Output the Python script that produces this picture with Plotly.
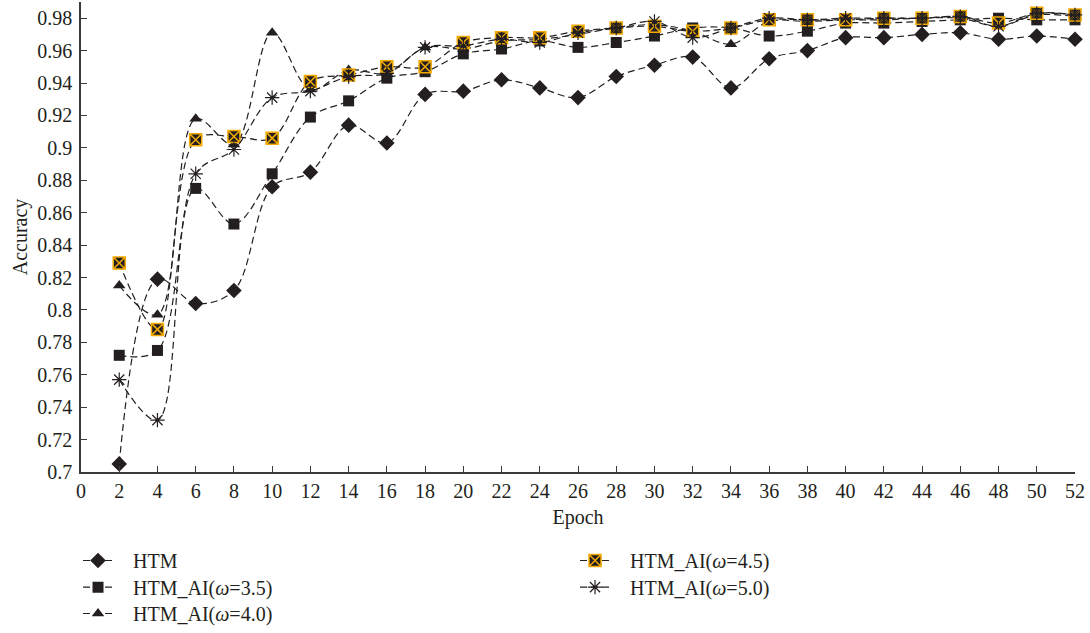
import plotly.graph_objects as go

epochs = list(range(2, 53, 2))

htm = [0.705, 0.819, 0.804, 0.812, 0.876, 0.885, 0.914, 0.903, 0.933, 0.935,
       0.942, 0.937, 0.931, 0.944, 0.951, 0.956, 0.937, 0.955, 0.960, 0.968,
       0.968, 0.970, 0.971, 0.967, 0.969, 0.967]
ai_35 = [0.772, 0.775, 0.875, 0.853, 0.884, 0.919, 0.929, 0.943, 0.947, 0.958,
         0.961, 0.966, 0.962, 0.965, 0.969, 0.974, 0.974, 0.969, 0.972, 0.977,
         0.977, 0.978, 0.979, 0.980, 0.979, 0.979]
ai_40 = [0.815, 0.797, 0.918, 0.902, 0.971, 0.936, 0.948, 0.946, 0.962, 0.961,
         0.966, 0.967, 0.970, 0.974, 0.976, 0.972, 0.964, 0.978, 0.978, 0.979,
         0.979, 0.980, 0.980, 0.975, 0.982, 0.981]
ai_45 = [0.829, 0.788, 0.905, 0.907, 0.906, 0.941, 0.945, 0.950, 0.950, 0.965,
         0.968, 0.968, 0.972, 0.974, 0.975, 0.972, 0.974, 0.979, 0.979, 0.979,
         0.980, 0.980, 0.981, 0.977, 0.983, 0.982]
ai_50 = [0.757, 0.732, 0.884, 0.899, 0.931, 0.935, 0.944, 0.946, 0.962, 0.963,
         0.967, 0.965, 0.971, 0.974, 0.978, 0.968, 0.974, 0.980, 0.979, 0.980,
         0.980, 0.980, 0.981, 0.975, 0.983, 0.982]

names = ["HTM", "HTM_AI(<i>ω</i>=3.5)", "HTM_AI(<i>ω</i>=4.0)",
         "HTM_AI(<i>ω</i>=4.5)", "HTM_AI(<i>ω</i>=5.0)"]

x_ticks = list(range(0, 53, 2))

INK = "#231f20"
ORANGE = "#f2a900"
FONT = "Liberation Serif"
PAD = "\u00a0\u00a0\u00a0"

styles = [
    dict(symbol="diamond", size=12, color=INK, line=dict(width=0, color=INK)),
    dict(symbol="square", size=11, color=INK, line=dict(width=0, color=INK)),
    dict(symbol="triangle-up", size=11, color=INK, line=dict(width=0, color=INK)),
    dict(symbol="square-x", size=12, color=INK, line=dict(width=1.5, color=ORANGE)),
    dict(symbol="asterisk-open", size=12, color=INK, line=dict(width=1.2, color=INK)),
]
series = [htm, ai_35, ai_40, ai_45, ai_50]
legend_ids = ["legend2", "legend3", "legend4", "legend5", "legend6"]
# legend placement (paper coords): column x, row y
legend_pos = [(-0.003, -0.1468), (-0.003, -0.2035), (-0.003, -0.2596),
              (0.497, -0.1468), (0.497, -0.2035)]

fig = go.Figure()
for name, ys, st, lg in zip(names, series, styles, legend_ids):
    fig.add_trace(go.Scatter(
        x=epochs, y=ys, name=PAD + name, mode="lines+markers",
        line=dict(color=INK, width=1.2, dash="7px,4px", shape="spline", smoothing=1),
        marker=st, legend=lg, showlegend=True, cliponaxis=False,
    ))

axis_common = dict(
    showline=True, linecolor="#3a3a3a", linewidth=1.5,
    ticks="inside", ticklen=6, tickwidth=1.2, tickcolor="#3a3a3a",
    showgrid=False, zeroline=False,
    tickfont=dict(family=FONT, size=20, color=INK),
)

legend_common = dict(
    xanchor="left", yanchor="top", orientation="v",
    bgcolor="rgba(0,0,0,0)", tracegroupgap=0, itemwidth=30,
    font=dict(family=FONT, size=20, color=INK),
)

layout_legends = {}
for lg, (lx, ly) in zip(legend_ids, legend_pos):
    layout_legends[lg] = dict(x=lx, y=ly, **legend_common)

fig.update_layout(
    width=1090, height=633,
    showlegend=True,
    margin=dict(l=81, r=15, t=2, b=161, autoexpand=False),
    paper_bgcolor="white", plot_bgcolor="white",
    font=dict(family=FONT, size=20, color=INK),
    xaxis=dict(range=[0, 52], tickmode="array", tickvals=x_ticks, ticklabelstandoff=0,
               title=dict(text="Epoch", font=dict(family=FONT, size=20, color=INK), standoff=9),
               automargin=False, **axis_common),
    yaxis=dict(range=[0.7, 0.99], tickmode="linear", tick0=0.7, dtick=0.02, ticklabelstandoff=3,
               title=dict(text="Accuracy", font=dict(family=FONT, size=20, color=INK), standoff=4),
               automargin=False, **axis_common),
    **layout_legends,
)

fig.write_html("out.html", config={"displayModeBar": False},
               post_script="document.body.style.margin='0px';")
